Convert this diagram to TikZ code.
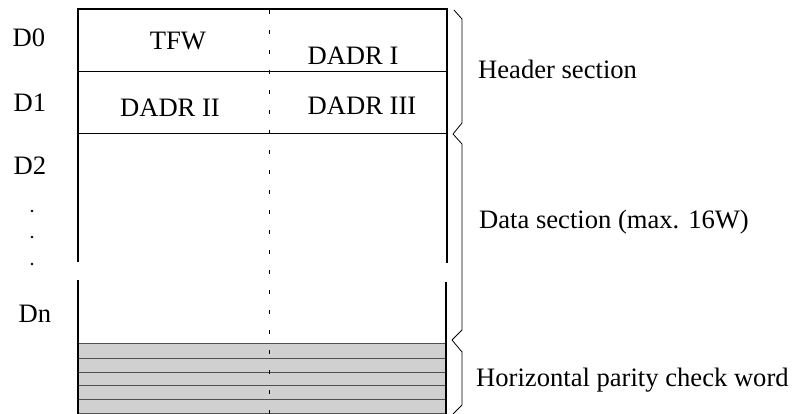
\documentclass[tikz,border=0pt]{standalone}
\usepackage{fontspec}
\setmainfont{Liberation Serif}
\definecolor{parityfill}{HTML}{D0D0D0}
\definecolor{parityline}{HTML}{505050}
\begin{document}
\begin{tikzpicture}[x=1pt,y=-1pt,
  lbl/.style={inner sep=0pt,anchor=base,font=\fontsize{26.6}{30}\selectfont},
  sidelbl/.style={lbl,anchor=base west},
  wall/.style={line width=2.2pt},
  rowline/.style={line width=1pt},
  midline/.style={line width=0.8pt,dash pattern=on 4pt off 16pt,dash phase=-1pt},
  bracket/.style={line width=0.8pt,line join=miter},
  dotmark/.style={circle,fill=black,inner sep=0pt,minimum size=2.6pt}]
\useasboundingbox (0,0) rectangle (793,414);

% parity word block
\fill[parityfill] (78,343) rectangle (446,414);
\foreach \yy in {343,358,372,385,399,413}
  \draw[line width=1pt,parityline] (79,\yy) -- (446,\yy);

% frame
\draw[wall] (78,262) -- (78,9) -- (447,9) -- (447,263);
\draw[wall] (78,280) -- (78,414);
\draw[wall] (446,282) -- (446,414);
\draw[rowline] (78,72) -- (447,72);
\draw[rowline] (78,134) -- (447,134);
\draw[midline] (269,9) -- (269,414);

% word contents
\node[lbl] (tfw)   at (178,50)  {TFW};
\node[lbl] (dadr1) at (353,65)  {DADR I};
\node[lbl] (dadr2) at (170,117) {DADR II};
\node[lbl] (dadr3) at (362,115) {DADR III};

% word numbers
\node[lbl] (d0) at (29,47)  {D0};
\node[lbl] (d1) at (30,112) {D1};
\node[lbl] (d2) at (30,175) {D2};
\node[dotmark] (p1) at (32,211) {};
\node[dotmark] (p2) at (32,237) {};
\node[dotmark] (p3) at (32,264) {};
\node[lbl] (dn) at (35,323) {Dn};

% section brackets
\coordinate (h0) at (454,10);
\coordinate (h1) at (453,134);
\coordinate (h2) at (452,340);
\coordinate (h3) at (453,414);
\draw[bracket] (h0) -- (462,19) -- (462,123) -- (h1);
\draw[bracket] (h1) -- (462,144) -- (462,330) -- (h2);
\draw[bracket] (h2) -- (462,352) -- (462,405) -- (h3);

% section names
\node[sidelbl] (hdr)  at (478,79)  {Header section};
\node[sidelbl] (data) at (479,229) {Data section (max. 16W)};
\node[sidelbl] (hpc)  at (476,386) {Horizontal parity check word};
\end{tikzpicture}
\end{document}
